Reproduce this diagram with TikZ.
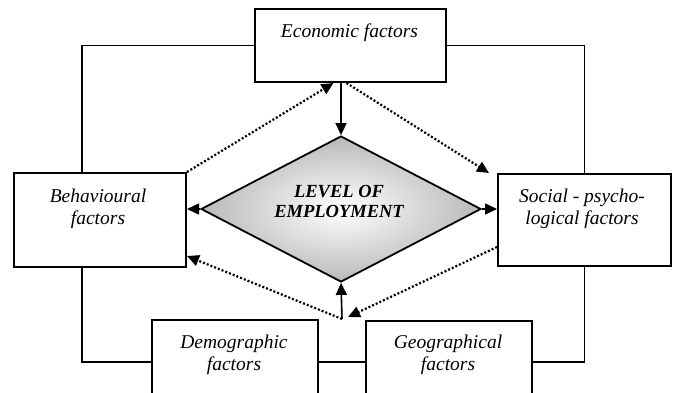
\documentclass[tikz,border=0pt]{standalone}
\usepackage{fontspec}
\setmainfont{Liberation Serif}
\usetikzlibrary{shapes.geometric,arrows.meta}
\begin{document}
\begin{tikzpicture}[x=1pt,y=-1pt,
  box/.style={draw,line width=2pt,rectangle,inner sep=0pt,anchor=north west},
  lbl/.style={font=\fontsize{19.5}{22}\selectfont\itshape,align=center,anchor=base,inner sep=0pt},
  dtext/.style={font=\fontsize{18.5}{20}\selectfont\bfseries\itshape,align=center,anchor=base,inner sep=0pt},
  conn/.style={line width=1.8pt},
  arr/.style={line width=1.6pt,-{Triangle[length=12pt,width=11pt]}},
  dotline/.style={line width=2.2pt,dash pattern=on 2pt off 2pt,-{Triangle[length=12pt,width=11pt]}}]
\useasboundingbox (0,0) rectangle (676,392);
\clip (0,0) rectangle (676,392);
% boxes
\node[box,minimum width=191pt,minimum height=73pt] (eco) at (254,8) {};
\node[box,minimum width=172pt,minimum height=94pt] (beh) at (13,172) {};
\node[box,minimum width=173pt,minimum height=92pt] (soc) at (497,173) {};
\node[box,minimum width=166pt,minimum height=84pt] (dem) at (151,319) {};
\node[box,minimum width=166pt,minimum height=82pt] (geo) at (365,320) {};
\node[diamond,draw,line width=1.8pt,minimum width=280pt,minimum height=146pt,inner sep=0pt,
      shade,inner color=white,outer color=gray!55] (dia) at (341,209) {};
% texts
\node[lbl] (teco) at (349.5,37) {Economic factors};
\node[lbl] (tbeh) at (98,224) {Behavioural\\factors};
\node[lbl] (tsoc) at (582,224) {Social - psycho-\\logical factors};
\node[lbl] (tdem) at (234,370) {Demographic\\factors};
\node[lbl] (tgeo) at (448,370) {Geographical\\factors};
\node[dtext] (tlvl) at (339,217) {LEVEL OF\\EMPLOYMENT};
% solid connectors
\draw[conn] ([xshift=69pt]beh.north west) |- (eco.west);
\draw[conn] (soc.north) |- (eco.east);
\draw[conn] ([xshift=69pt]beh.south west) |- (dem.west);
\draw[conn] (dem.east) -- (geo.west);
\draw[conn] (soc.south) |- (geo.east);
% arrows
\coordinate (j) at (342,319);
\draw[arr] (dia.north |- eco.south) -- (dia.north);
\draw[arr] (j) -- (dia.south);
\draw[arr] (dia.west) -- (dia.west -| beh.east);
\draw[arr] (dia.east) -- (dia.east -| soc.west);
% dotted arrows
\draw[dotline] (beh.north east) -- ([xshift=-17pt]eco.south);
\draw[dotline] ([xshift=-4pt]eco.south) -- ([xshift=-8pt]soc.north west);
\draw[dotline] (j) -- ([yshift=12pt]beh.south east);
\draw[dotline] ([yshift=20pt]soc.south west) -- ([xshift=6pt,yshift=2pt]j);
\end{tikzpicture}
\end{document}
